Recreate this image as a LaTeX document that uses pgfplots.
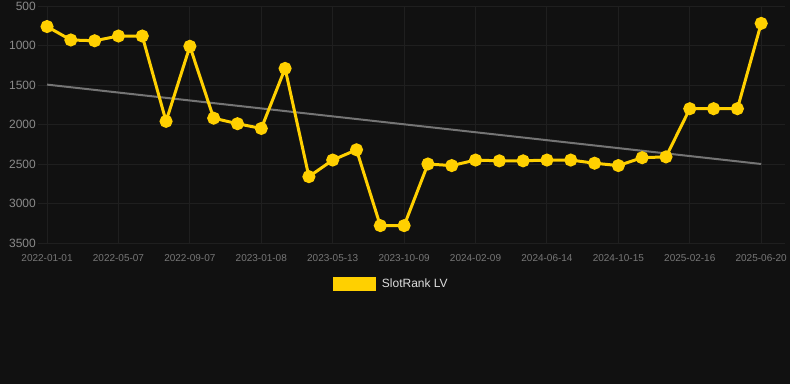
\documentclass[border=0pt]{standalone}
\usepackage{pgfplots}
\pgfplotsset{compat=1.18}
\usepackage{fontspec}
\setmainfont{Liberation Sans}
\definecolor{bg}{HTML}{111111}
\definecolor{ser}{HTML}{FFD000}
\definecolor{gridc}{HTML}{1F1F1F}
\definecolor{trend}{HTML}{747474}
\definecolor{ylab}{HTML}{8A8A8A}
\definecolor{xlab}{HTML}{777777}
\definecolor{legtext}{HTML}{DDDDDD}
\begin{document}
\begin{tikzpicture}
\fill[bg] (0bp,0bp) rectangle (790bp,384bp);
\begin{axis}[
  at={(38bp,141bp)}, anchor=south west,
  scale only axis, width=747bp, height=237bp,
  xmin=-0.38, xmax=31, ymin=500, ymax=3500, y dir=reverse,
  axis line style={draw=none},
  major tick length=0pt,
  grid=major, grid style={gridc, line width=1bp},
  xtick={0,3,...,30},
  xticklabels={2022-01-01,2022-05-07,2022-09-07,2023-01-08,2023-05-13,2023-10-09,2024-02-09,2024-06-14,2024-10-15,2025-02-16,2025-06-20},
  ytick={500,1000,...,3500},
  /pgf/number format/assume math mode=true,
  /pgf/number format/1000 sep={},
  yticklabel style={font=\fontsize{12bp}{14bp}\selectfont, text=ylab, inner sep=0pt, xshift=-2bp},
  xticklabel style={font=\fontsize{10bp}{12bp}\selectfont, text=xlab, inner sep=0pt, yshift=-11.5bp},
  legend style={at={(0.473,-0.173)}, anchor=center, draw=none, fill=none, text=legtext,
    font=\fontsize{12bp}{14bp}\selectfont, inner sep=0pt,
    /tikz/every odd column/.append style={column sep=4bp}},
  clip=false,
]
\addplot[trend, line width=2bp, forget plot] coordinates {(0,1495) (30,2500)};
\addplot[ser, line width=3bp, mark=*, mark size=5bp, mark options={fill=ser, draw=none},
  legend image code/.code={\fill[ser] (0bp,-5.5bp) rectangle (40bp,5.5bp);}] coordinates {
(0,760) (1,930) (2,940) (3,880) (4,880) (5,1960) (6,1010) (7,1920) (8,1990) (9,2050)
(10,1290) (11,2660) (12,2450) (13,2320) (14,3280) (15,3280) (16,2500) (17,2520) (18,2450) (19,2460)
(20,2460) (21,2450) (22,2450) (23,2490) (24,2520) (25,2420) (26,2410) (27,1800) (28,1800) (29,1800)
(30,720)};
\addlegendentry{SlotRank LV}
\end{axis}
\end{tikzpicture}
\end{document}
